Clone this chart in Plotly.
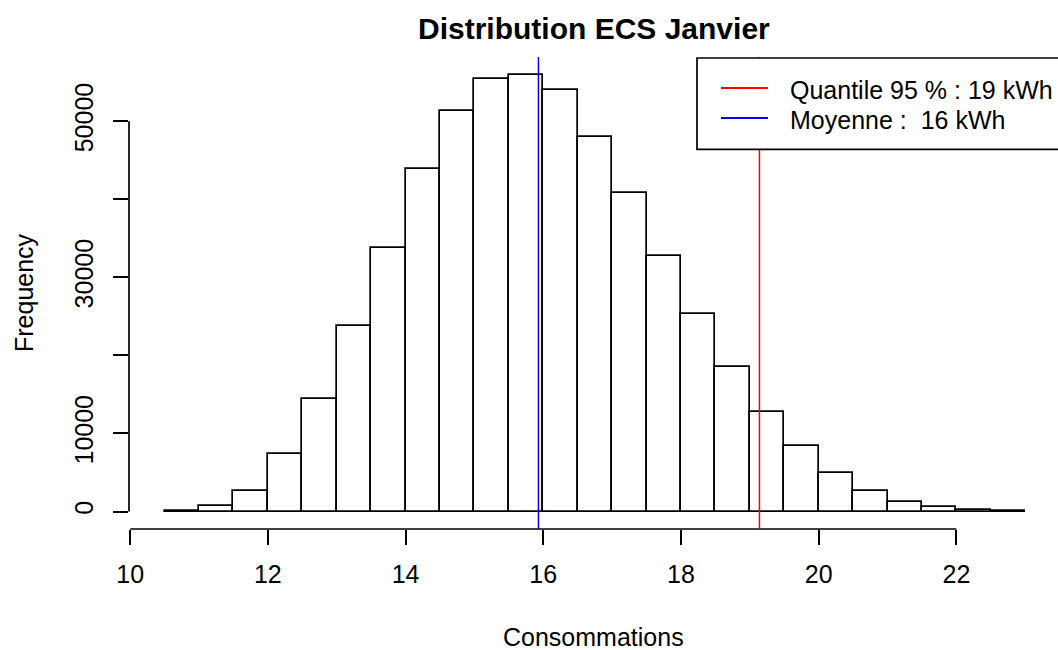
import plotly.graph_objects as go

# ---- data ----
bin_left = [10.5, 11.0, 11.5, 12.0, 12.5, 13.0, 13.5, 14.0, 14.5, 15.0, 15.5, 16.0,
            16.5, 17.0, 17.5, 18.0, 18.5, 19.0, 19.5, 20.0, 20.5, 21.0, 21.5, 22.0, 22.5]
counts = [30, 700, 2670, 7400, 14430, 23750, 33760, 43860, 51270, 55380, 55970, 54000,
          47930, 40780, 32730, 25340, 18540, 12710, 8430, 4970, 2620, 1250, 520, 200, 30]
bin_width = 0.5
mean_val = 15.93
q95_val = 19.14
x_ticks = [10, 12, 14, 16, 18, 20, 22]
y_ticks = [0, 10000, 20000, 30000, 40000, 50000]
y_ticklabels = ["0", "10000", "", "30000", "", "50000"]
legend_labels = ["Quantile 95 % : 19 kWh", "Moyenne :  16 kWh"]
legend_colors = ["red", "blue"]

FONT = "Liberation Sans, Arial, sans-serif"
W, H = 1058, 650
ML, MR, MT, MB = 129, 0, 57, 121
PW, PH = W - ML - MR, H - MT - MB


def px_x(p):
    return (p - ML) / PW


def px_y(p):
    return (H - MB - p) / PH


centers = [b + bin_width / 2 for b in bin_left]

fig = go.Figure()
fig.add_trace(go.Bar(
    x=centers, y=counts, width=bin_width,
    marker=dict(color="white", line=dict(color="black", width=1.7)),
    showlegend=False, hoverinfo="x+y",
))

shapes = []
# R style axis lines
shapes.append(dict(type="line", xref="x", yref="paper", x0=x_ticks[0], x1=x_ticks[-1], y0=0, y1=0,
                   line=dict(color="black", width=1.7)))
shapes.append(dict(type="line", xref="paper", yref="y", x0=0, x1=0, y0=y_ticks[0], y1=y_ticks[-1],
                   line=dict(color="black", width=1.7)))
# mean / quantile lines
shapes.append(dict(type="line", xref="x", yref="paper", x0=q95_val, x1=q95_val, y0=0, y1=1,
                   line=dict(color="red", width=1.5)))
shapes.append(dict(type="line", xref="x", yref="paper", x0=mean_val, x1=mean_val, y0=0, y1=1,
                   line=dict(color="blue", width=1.5)))
# legend box
shapes.append(dict(type="rect", xref="paper", yref="paper", x0=px_x(697), x1=px_x(1120),
                   y0=px_y(149.3), y1=px_y(58), fillcolor="white",
                   line=dict(color="black", width=1.7)))
annotations = []
for i, (lab, col) in enumerate(zip(legend_labels, legend_colors)):
    ly = 88 + 30 * i
    shapes.append(dict(type="line", xref="paper", yref="paper", x0=px_x(721), x1=px_x(768),
                       y0=px_y(ly), y1=px_y(ly), line=dict(color=col, width=2)))
    annotations.append(dict(text=lab, xref="paper", yref="paper", x=px_x(788), y=px_y(ly + 2),
                            xanchor="left", yanchor="middle", showarrow=False,
                            font=dict(family=FONT, size=25, color="black")))

annotations.append(dict(text="<b>Distribution ECS Janvier</b>", xref="paper", yref="paper",
                        x=0.5, y=px_y(28), xanchor="center", yanchor="middle", showarrow=False,
                        font=dict(family=FONT, size=30, color="black")))
annotations.append(dict(text="Consommations", xref="paper", yref="paper",
                        x=0.5, y=px_y(637), xanchor="center", yanchor="middle", showarrow=False,
                        font=dict(family=FONT, size=25, color="black")))
annotations.append(dict(text="Frequency", xref="paper", yref="paper", textangle=-90,
                        x=px_x(24), y=0.5, xanchor="center", yanchor="middle", showarrow=False,
                        font=dict(family=FONT, size=25, color="black")))

fig.update_layout(
    width=W, height=H,
    margin=dict(l=ML, r=MR, t=MT, b=MB, pad=0),
    paper_bgcolor="white", plot_bgcolor="white",
    bargap=0,
    shapes=shapes, annotations=annotations,
    xaxis=dict(range=[9.983, 23.476], tickvals=x_ticks, ticktext=[str(v) for v in x_ticks],
               ticks="outside", ticklen=15, tickwidth=1.7, tickcolor="black",
               showgrid=False, zeroline=False, showline=False,
               tickfont=dict(family=FONT, size=25, color="black"), ticklabelstandoff=8),
    yaxis=dict(range=[-2240, 58240], tickvals=y_ticks, ticktext=y_ticklabels,
               ticks="outside", ticklen=15, tickwidth=1.7, tickcolor="black",
               showgrid=False, zeroline=False, showline=False, tickangle=-90,
               tickfont=dict(family=FONT, size=25, color="black"), ticklabelstandoff=10),
    showlegend=False,
)

fig.write_html("out.html", config={"displayModeBar": False},
               post_script="document.body.style.margin='0';")
